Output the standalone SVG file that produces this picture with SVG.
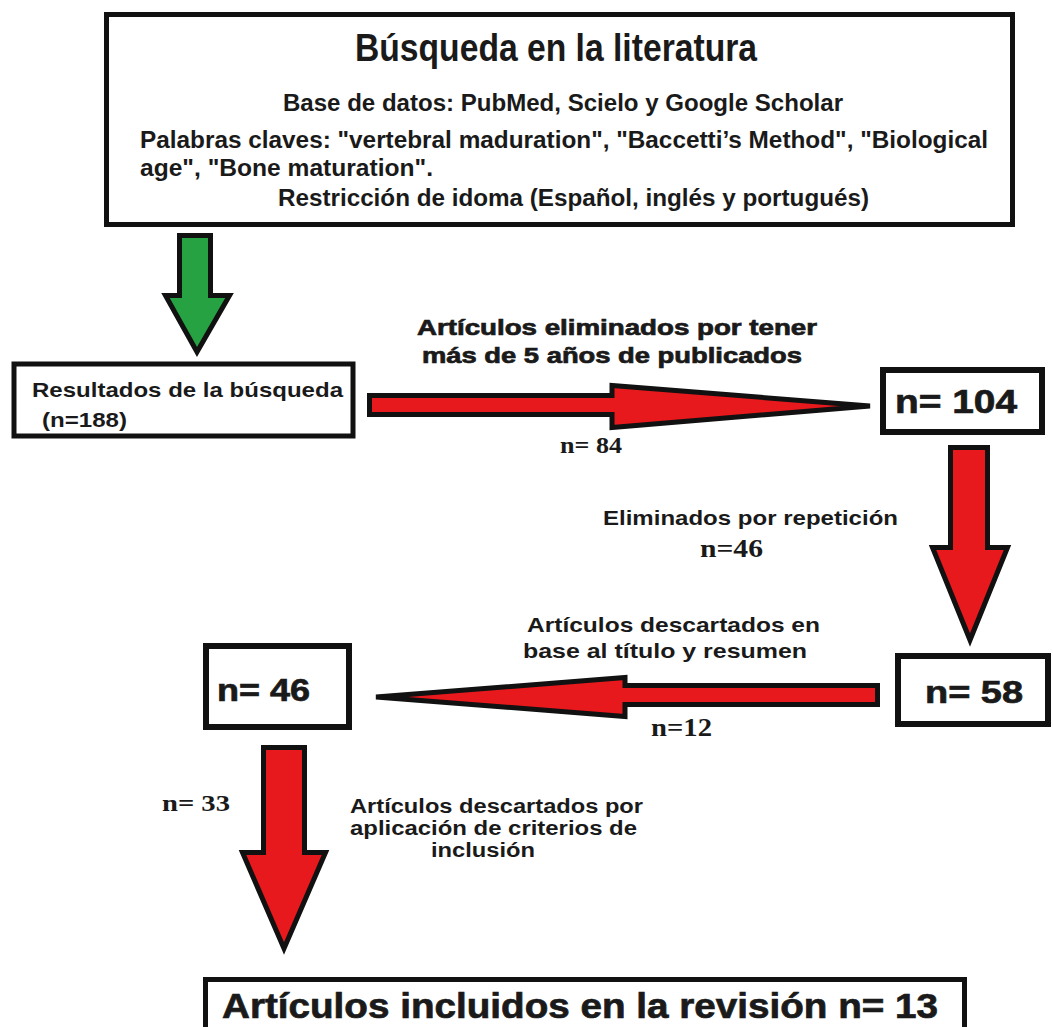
<svg xmlns="http://www.w3.org/2000/svg" width="1053" height="1027" viewBox="0 0 1053 1027">
<defs>
<style>
.box{fill:#fff;stroke:#111;stroke-width:5}
.bx6{fill:#fff;stroke:#111;stroke-width:6}
.t{font-family:"Liberation Sans",Arial,sans-serif;font-weight:bold;fill:#1a1a1a}
.hv{font-family:"Liberation Sans",Arial,sans-serif;font-weight:bold;fill:#1a1a1a;stroke:#1a1a1a;stroke-width:0.7}
.tm{font-family:"Liberation Serif","Times New Roman",serif;font-weight:bold;fill:#1a1a1a}
.red{fill:#e8191d;stroke:#111;stroke-width:5;stroke-linejoin:miter}
.grn{fill:#27a243;stroke:#111;stroke-width:5;stroke-linejoin:miter}
</style>
</defs>
<rect width="1053" height="1027" fill="#fff"/>

<g id="connectors">
<polygon class="grn" points="179.5,235.5 210.5,235.5 210.5,295.5 229.5,295.5 197,352 165.5,295.5 179.5,295.5"/>
<polygon class="red" points="369.5,395.5 612,395.5 612,385.5 870,406 612,427.5 612,414.5 369.5,414.5"/>
<polygon class="red" points="950.5,447.5 987.5,447.5 987.5,547.5 1007.5,547.5 970,640 932.5,547.5 950.5,547.5"/>
<polygon class="red" points="877.5,685.5 625,685.5 625,677.5 376,697 625,716.5 625,704.5 877.5,704.5"/>
<polygon class="red" points="263.5,747.5 304.5,747.5 304.5,852.5 325.5,852.5 284,948.5 242.5,852.5 263.5,852.5"/>
<text class="hv" x="417" y="335" font-size="22" textLength="400" lengthAdjust="spacingAndGlyphs">Artículos eliminados por tener</text>
<text class="hv" x="422" y="363" font-size="22" textLength="380" lengthAdjust="spacingAndGlyphs">más de 5 años de publicados</text>
<text class="tm" x="560" y="453" font-size="24" textLength="62" lengthAdjust="spacingAndGlyphs">n= 84</text>
<text class="t" x="603" y="525" font-size="21" textLength="295" lengthAdjust="spacingAndGlyphs">Eliminados por repetición</text>
<text class="tm" x="700" y="557" font-size="25" textLength="63" lengthAdjust="spacingAndGlyphs">n=46</text>
<text class="t" x="527" y="632" font-size="21" textLength="293" lengthAdjust="spacingAndGlyphs">Artículos descartados en</text>
<text class="t" x="523" y="658" font-size="21" textLength="284" lengthAdjust="spacingAndGlyphs">base al título y resumen</text>
<text class="tm" x="651" y="736" font-size="25" textLength="61" lengthAdjust="spacingAndGlyphs">n=12</text>
<text class="tm" x="162" y="811" font-size="24" textLength="68" lengthAdjust="spacingAndGlyphs">n= 33</text>
<text class="t" x="350" y="813" font-size="20" textLength="293" lengthAdjust="spacingAndGlyphs">Artículos descartados por</text>
<text class="t" x="350" y="835" font-size="20" textLength="287" lengthAdjust="spacingAndGlyphs">aplicación de criterios de</text>
<text class="t" x="431" y="857" font-size="20" textLength="104" lengthAdjust="spacingAndGlyphs">inclusión</text>
</g>

<g id="search">
<rect class="box" x="106.5" y="14.5" width="906" height="210"/>
<text class="t" x="355" y="61" font-size="38" textLength="402" lengthAdjust="spacingAndGlyphs">Búsqueda en la literatura</text>
<text class="t" x="283" y="111" font-size="23" textLength="560" lengthAdjust="spacingAndGlyphs">Base de datos: PubMed, Scielo y Google Scholar</text>
<text class="t" x="140" y="148" font-size="23" textLength="848" lengthAdjust="spacingAndGlyphs">Palabras claves: "vertebral maduration", "Baccetti’s Method", "Biological</text>
<text class="t" x="140" y="176" font-size="23" textLength="293" lengthAdjust="spacingAndGlyphs">age", "Bone maturation".</text>
<text class="t" x="278" y="206" font-size="23" textLength="591" lengthAdjust="spacingAndGlyphs">Restricción de idoma (Español, inglés y portugués)</text>
</g>

<g id="results">
<rect class="box" x="14" y="364" width="339" height="72" stroke-width="4"/>
<text class="t" x="32" y="397" font-size="21" textLength="311" lengthAdjust="spacingAndGlyphs">Resultados de la búsqueda</text>
<text class="t" x="42" y="427" font-size="21" textLength="85" lengthAdjust="spacingAndGlyphs">(n=188)</text>
</g>

<g id="n104">
<rect class="bx6" x="883" y="370" width="159" height="62"/>
<text class="hv" x="895" y="413" font-size="34" textLength="122" lengthAdjust="spacingAndGlyphs">n= 104</text>
</g>

<g id="n58">
<rect class="bx6" x="898" y="656" width="150" height="68"/>
<text class="hv" x="925" y="703" font-size="32" textLength="98" lengthAdjust="spacingAndGlyphs">n= 58</text>
</g>

<g id="n46">
<rect class="bx6" x="206" y="646" width="143" height="81"/>
<text class="hv" x="217" y="701" font-size="31" textLength="93" lengthAdjust="spacingAndGlyphs">n= 46</text>
</g>

<g id="included">
<rect class="box" x="205.5" y="979.5" width="759" height="70"/>
<text class="hv" x="222" y="1018" font-size="35" textLength="716" lengthAdjust="spacingAndGlyphs">Artículos incluidos en la revisión n= 13</text>
</g>
</svg>
